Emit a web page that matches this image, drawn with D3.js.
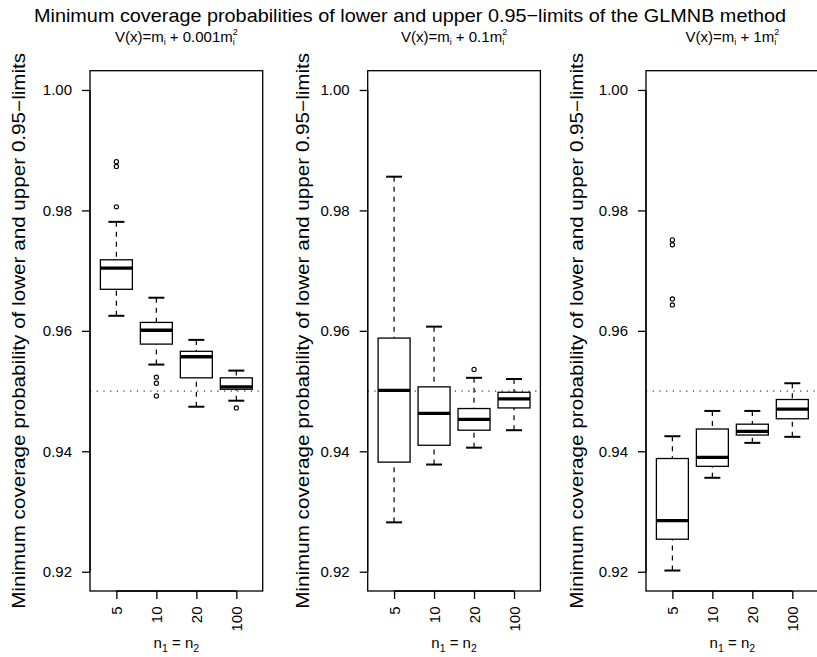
<!DOCTYPE html>
<html><head><meta charset="utf-8">
<script src="https://cdn.jsdelivr.net/npm/d3@7"></script>
<style>body{margin:0;background:#fff}svg{display:block;font-family:"Liberation Sans",Arial,Helvetica,sans-serif}</style>
</head><body><svg id="c" width="817" height="657"></svg>
<script>
const categories = ["5","10","20","100"];
const yTickValues = [0.92,0.94,0.96,0.98,1.00];
const panelCoefs = ["0.001","0.1","1"];
const mainTitle = "Minimum coverage probabilities of lower and upper 0.95\u2212limits of the GLMNB method";
const yTitle = "Minimum coverage probability of lower and upper 0.95\u2212limits";
const refLine = 0.95;
// [lower whisker, Q1, median, Q3, upper whisker]
const stats001 = [
 [0.9625,0.9669,0.9704,0.9718,0.9781],
 [0.9544,0.9578,0.9601,0.9614,0.9655],
 [0.9474,0.9522,0.9557,0.9566,0.9585],
 [0.9484,0.9503,0.9507,0.9522,0.9534]];
const outliers001 = [[0.9881,0.9873,0.9806],[0.9523,0.9513,0.9492],[],[0.9472]];
const stats01 = [
 [0.9282,0.9382,0.9501,0.9588,0.9856],
 [0.9378,0.9410,0.9463,0.9507,0.9607],
 [0.9406,0.9435,0.9453,0.9471,0.9522],
 [0.9435,0.9472,0.9487,0.9498,0.9520]];
const outliers01 = [[],[],[0.9536],[]];
const stats1 = [
 [0.9202,0.9254,0.9285,0.9388,0.9425],
 [0.9356,0.9375,0.9390,0.9437,0.9467],
 [0.9414,0.9427,0.9433,0.9445,0.9467],
 [0.9424,0.9454,0.9470,0.9486,0.9513]];
const outliers1 = [[0.9751,0.9743,0.9653,0.9643],[],[],[]];

const panels = [
  {coef: panelCoefs[0], stats: stats001, out: outliers001},
  {coef: panelCoefs[1], stats: stats01, out: outliers01},
  {coef: panelCoefs[2], stats: stats1, out: outliers1}
];
const svg = d3.select("#c");
const plotTop = 70.7, plotBottom = 591, pw = 172.7;
const lefts = [90, 367.7, 646];
const titleX = [24.5, 309, 583];
const y = d3.scaleLinear().domain([0.92 - 0.0032, 1.0 + 0.0032]).range([plotBottom, plotTop]);

svg.append("text").attr("x", 410).attr("y", 21.8).attr("text-anchor","middle")
  .attr("font-size", 18.5).attr("textLength", 752).attr("lengthAdjust","spacingAndGlyphs").text(mainTitle);

panels.forEach((p, pi) => {
  const L = lefts[pi];
  const x = d3.scaleLinear().domain([0.5 - 0.16, 4.5 + 0.16]).range([L, L + pw]);
  const g = svg.append("g");
  const cx = L + pw/2;
  const st = g.append("text").attr("x", cx).attr("y", 41.5).attr("text-anchor","middle").attr("font-size", 15);
  st.append("tspan").text("V(x)=m");
  st.append("tspan").attr("font-size", 9).attr("dy", 3).text("i");
  st.append("tspan").attr("dy", -3).text(" + " + p.coef + "m");
  st.append("tspan").attr("font-size", 9).attr("dy", 3).text("i");
  st.append("tspan").attr("font-size", 9).attr("dx", -2).attr("dy", -10).text("2");

  g.append("line").attr("x1", L).attr("x2", L + pw).attr("y1", y(refLine)).attr("y2", y(refLine))
    .attr("stroke","#000").attr("stroke-width",1).attr("stroke-dasharray","1.2,5.5");

  p.stats.forEach((s, i) => {
    const xc = x(i + 1), hw = x(1.4) - x(1), cw = x(1.2) - x(1);
    g.append("line").attr("x1", xc).attr("x2", xc).attr("y1", y(s[4])).attr("y2", y(s[3]))
      .attr("stroke","#000").attr("stroke-width",1.2).attr("stroke-dasharray","5,5");
    g.append("line").attr("x1", xc).attr("x2", xc).attr("y1", y(s[0])).attr("y2", y(s[1]))
      .attr("stroke","#000").attr("stroke-width",1.2).attr("stroke-dasharray","5,5");
    g.append("line").attr("x1", xc - cw).attr("x2", xc + cw).attr("y1", y(s[4])).attr("y2", y(s[4]))
      .attr("stroke","#000").attr("stroke-width",2);
    g.append("line").attr("x1", xc - cw).attr("x2", xc + cw).attr("y1", y(s[0])).attr("y2", y(s[0]))
      .attr("stroke","#000").attr("stroke-width",2);
    g.append("rect").attr("x", xc - hw).attr("width", 2*hw).attr("y", y(s[3])).attr("height", y(s[1]) - y(s[3]))
      .attr("fill","#fff").attr("stroke","#000").attr("stroke-width",1.3);
    g.append("line").attr("x1", xc - hw).attr("x2", xc + hw).attr("y1", y(s[2])).attr("y2", y(s[2]))
      .attr("stroke","#000").attr("stroke-width",3.3);
    p.out[i].forEach(v => {
      g.append("circle").attr("cx", xc).attr("cy", y(v)).attr("r", 2.1)
        .attr("fill","none").attr("stroke","#000").attr("stroke-width",1.1);
    });
  });

  g.append("rect").attr("x", L).attr("y", plotTop).attr("width", pw).attr("height", plotBottom - plotTop)
    .attr("fill","none").attr("stroke","#000").attr("stroke-width",1.3);

  const ya = g.append("g").attr("transform", `translate(${L},0)`)
    .call(d3.axisLeft(y).tickValues(yTickValues).tickSize(8).tickPadding(10).tickFormat(d3.format(".2f")));
  ya.select(".domain").attr("d", `M-0,${y(0.92)}V${y(1.0)}`).attr("stroke-width",1.3);
  ya.selectAll(".tick line").attr("stroke-width",1.3);
  ya.selectAll("text").attr("font-size", 15).attr("font-family", null).attr("fill","#000");

  const xa = g.append("g").attr("transform", `translate(0,${plotBottom})`)
    .call(d3.axisBottom(x).tickValues([1,2,3,4]).tickSize(8).tickFormat(d => categories[d-1]));
  xa.select(".domain").attr("d", `M${x(1)},0H${x(4)}`).attr("stroke-width",1.3);
  xa.selectAll(".tick line").attr("stroke-width",1.3);
  xa.selectAll("text").attr("font-size", 15).attr("font-family", null).attr("fill","#000")
    .attr("transform","rotate(-90)").attr("text-anchor","end").attr("x", -15.5).attr("y", 0).attr("dy","0.36em");

  const xt = g.append("text").attr("x", cx).attr("y", 648).attr("text-anchor","middle").attr("font-size", 15);
  xt.append("tspan").text("n");
  xt.append("tspan").attr("font-size", 10.5).attr("dy", 3.5).text("1");
  xt.append("tspan").attr("dy", -3.5).text(" = n");
  xt.append("tspan").attr("font-size", 10.5).attr("dy", 3.5).text("2");

  g.append("text").attr("transform", `translate(${titleX[pi]},${(plotTop + plotBottom)/2}) rotate(-90)`)
    .attr("text-anchor","middle").attr("font-size", 18).attr("textLength", 556)
    .attr("lengthAdjust","spacingAndGlyphs").text(yTitle);
});
</script></body></html>
